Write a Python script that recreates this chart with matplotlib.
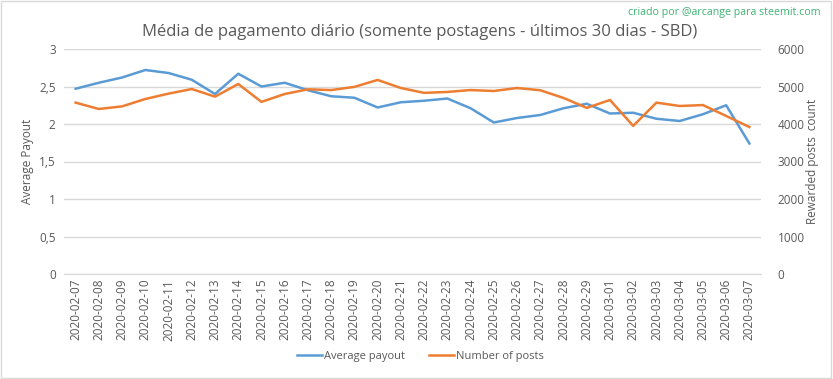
import matplotlib.pyplot as plt
from matplotlib.ticker import FuncFormatter

plt.rcParams['font.family'] = ['Open Sans', 'DejaVu Sans']

dates = ['2020-02-07', '2020-02-08', '2020-02-09', '2020-02-10', '2020-02-11',
         '2020-02-12', '2020-02-13', '2020-02-14', '2020-02-15', '2020-02-16',
         '2020-02-17', '2020-02-18', '2020-02-19', '2020-02-20', '2020-02-21',
         '2020-02-22', '2020-02-23', '2020-02-24', '2020-02-25', '2020-02-26',
         '2020-02-27', '2020-02-28', '2020-02-29', '2020-03-01', '2020-03-02',
         '2020-03-03', '2020-03-04', '2020-03-05', '2020-03-06', '2020-03-07']

avg_payout = [2.47, 2.55, 2.62, 2.72, 2.68, 2.59, 2.40, 2.67, 2.50, 2.55,
              2.45, 2.37, 2.35, 2.22, 2.29, 2.31, 2.34, 2.21, 2.02, 2.08,
              2.12, 2.21, 2.27, 2.14, 2.15, 2.07, 2.04, 2.13, 2.25, 1.74]

num_posts = [4570, 4400, 4470, 4667, 4810, 4933, 4730, 5067, 4590, 4800,
             4925, 4905, 4990, 5175, 4960, 4830, 4855, 4905, 4880, 4960,
             4900, 4695, 4430, 4640, 3950, 4570, 4480, 4505, 4215, 3920]

grey = '#595959'
blue = '#5b9bd5'
orange = '#ed7d31'

fig = plt.figure(figsize=(8.33, 3.79), dpi=100)
ax = fig.add_axes([64 / 833, 1 - 274 / 379, (761 - 64) / 833, (274 - 49) / 379])
ax2 = ax.twinx()

x = list(range(len(dates)))
l1, = ax.plot(x, avg_payout, color=blue, lw=1.8, label='Average payout')
l2, = ax2.plot(x, num_posts, color=orange, lw=1.8, label='Number of posts')

ax.set_xlim(-0.5, len(dates) - 0.5)
ax.set_ylim(0, 3)
ax2.set_ylim(0, 6000)
ax.set_yticks([0, 0.5, 1, 1.5, 2, 2.5, 3])
ax2.set_yticks([0, 1000, 2000, 3000, 4000, 5000, 6000])
ax.yaxis.set_major_formatter(FuncFormatter(lambda v, p: ('%g' % v).replace('.', ',')))

ax.set_xticks(x)
ax.set_xticklabels(dates, rotation=90, fontsize=7.5, color=grey)
ax.grid(axis='y', color='#d9d9d9', lw=1)
ax.set_axisbelow(True)

for a in (ax, ax2):
    for s in a.spines.values():
        s.set_visible(False)
    a.tick_params(length=0, labelsize=8.5, colors=grey)
ax.spines['bottom'].set_visible(True)
ax.spines['bottom'].set_color('#d9d9d9')
ax.tick_params(axis='y', pad=6)
ax2.tick_params(axis='y', pad=12)

ax.set_ylabel('Average Payout', color=grey, fontsize=8.5)
ax.yaxis.set_label_coords(-0.043, 0.5)
ax2.set_ylabel('Rewarded posts  count', color=grey, fontsize=8.5, labelpad=1)

fig.text(0.504, 1 - 32 / 379, 'Média de pagamento diário (somente postagens - últimos 30 dias - SBD)',
         ha='center', va='center', fontsize=12, color=grey)
fig.text(0.985, 1 - 13 / 379, 'criado por @arcange para steemit.com',
         ha='right', va='center', fontsize=7.7, color='#3cb371')

fig.legend(handles=[l1, l2], loc='center', bbox_to_anchor=(0.505, 1 - 356 / 379),
           ncol=2, frameon=False, fontsize=8, labelcolor=grey, handlelength=2.2,
           columnspacing=2.2, handletextpad=0.2)

fig.patches.append(plt.Rectangle((0.001, 0.002), 0.997, 0.995, transform=fig.transFigure,
                                 fill=False, edgecolor='#d9d9d9', lw=1))

fig.savefig('out.png', dpi=100)
